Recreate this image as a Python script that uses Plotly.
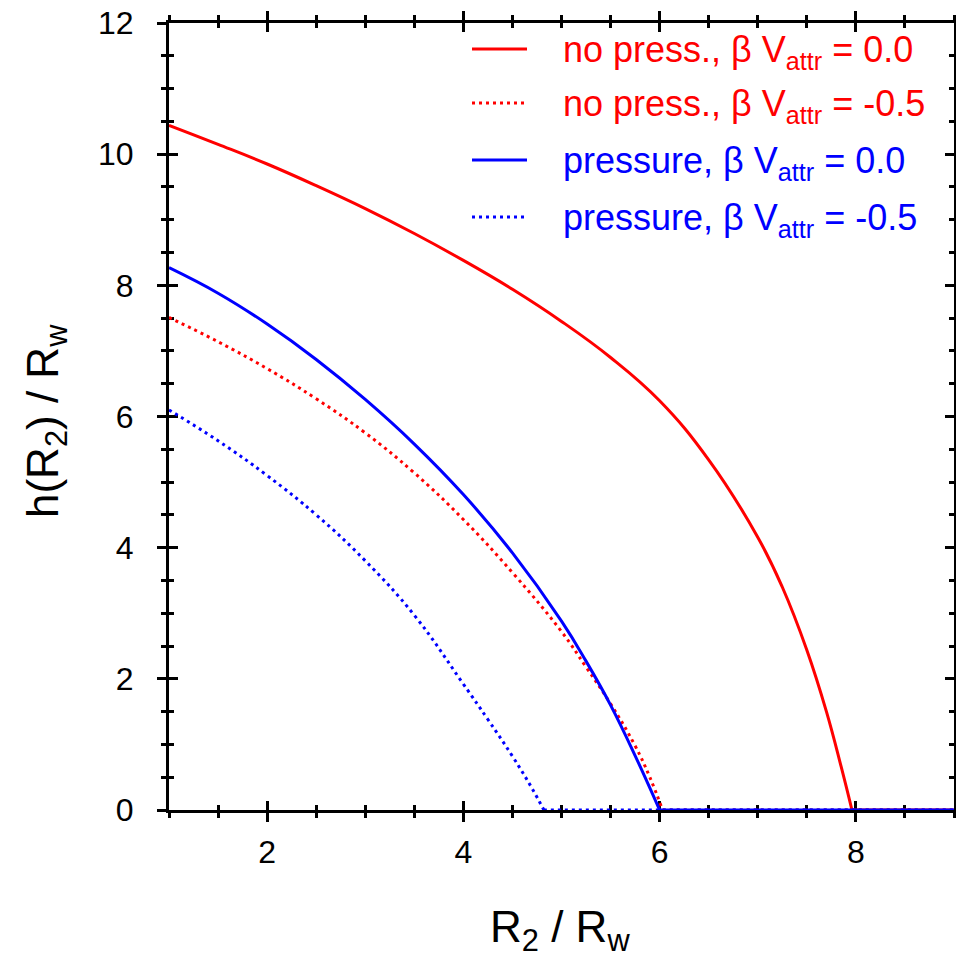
import plotly.graph_objects as go

# ---- data ----
x_nopress_0 = [1, 1.5, 2, 2.5, 3, 3.5, 4, 4.5, 5, 5.5, 6, 6.5, 7, 7.25, 7.5, 7.7, 7.85, 7.96, 9]
y_nopress_0 = [10.44, 10.15, 9.85, 9.52, 9.17, 8.79, 8.38, 7.94, 7.45, 6.90, 6.24, 5.34, 4.16, 3.40, 2.44, 1.50, 0.66, 0.0, 0.0]

x_nopress_m05 = [1, 1.5, 2, 2.5, 3, 3.5, 4, 4.5, 5, 5.25, 5.5, 5.75, 5.9, 6.03, 9]
y_nopress_m05 = [7.51, 7.14, 6.73, 6.27, 5.75, 5.14, 4.43, 3.62, 2.72, 2.18, 1.62, 0.98, 0.50, 0.0, 0.0]

x_press_0 = [1, 1.5, 2, 2.5, 3, 3.5, 4, 4.5, 5, 5.25, 5.5, 5.75, 6.0, 9]
y_press_0 = [8.27, 7.88, 7.41, 6.87, 6.26, 5.58, 4.81, 3.92, 2.88, 2.27, 1.60, 0.83, 0.0, 0.0]

x_press_m05 = [1, 1.5, 2, 2.5, 3, 3.5, 4, 4.25, 4.5, 4.7, 4.82, 9]
y_press_m05 = [6.10, 5.63, 5.10, 4.50, 3.80, 2.97, 1.92, 1.38, 0.82, 0.33, 0.0, 0.0]

series_names = [
    "no press., β V<sub>attr</sub> = 0.0",
    "no press., β V<sub>attr</sub> = -0.5",
    "pressure, β V<sub>attr</sub> = 0.0",
    "pressure, β V<sub>attr</sub> = -0.5",
]
series_colors = ["#ff0000", "#ff0000", "#0000ff", "#0000ff"]
series_dash = ["solid", "3px,4px", "solid", "3px,4px"]

x_ticks = [2, 4, 6, 8]
y_ticks = [0, 2, 4, 6, 8, 10, 12]

FONT = "Liberation Sans, Arial, Helvetica, sans-serif"

fig = go.Figure()
all_x = [x_nopress_0, x_nopress_m05, x_press_0, x_press_m05]
all_y = [y_nopress_0, y_nopress_m05, y_press_0, y_press_m05]
for xs, ys, name, col, dash in zip(all_x, all_y, series_names, series_colors, series_dash):
    k = ys.index(0.0)  # first point where the profile reaches zero
    # curved part (smoothed) ...
    fig.add_trace(go.Scatter(
        x=xs[:k + 1], y=ys[:k + 1], mode="lines", name=name, showlegend=False,
        line=dict(color=col, width=3, dash=dash, shape="spline", smoothing=1.2),
        cliponaxis=False,
    ))
    # ... and the flat h = 0 part
    fig.add_trace(go.Scatter(
        x=xs[k:], y=ys[k:], mode="lines", name=name, showlegend=False,
        line=dict(color=col, width=3, dash=dash),
        cliponaxis=False,
    ))

W, H = 956, 965
ML, MR, MT, MB = 169, 2, 23, 155
PW, PH = W - ML - MR, H - MT - MB


def px2paper(px, py):
    return (px - ML) / PW, (H - MB - py) / PH


common = dict(showgrid=False, zeroline=False, showline=True, linecolor="black",
              linewidth=3, tickcolor="black", tickwidth=3, ticklen=9,
              mirror="allticks", layer="below traces", automargin=False)

fig.update_layout(
    width=W, height=H, autosize=False,
    margin=dict(l=ML, r=MR, t=MT, b=MB, pad=0),
    paper_bgcolor="white", plot_bgcolor="white",
    font=dict(family=FONT, size=32, color="black"),
    xaxis=dict(range=[1, 9], tickvals=x_ticks, ticks="inside",
               minor=dict(dtick=0.5, tick0=1, ticks="inside", ticklen=5,
                          tickwidth=3, tickcolor="black"),
               tickfont=dict(size=32), ticklabelstandoff=12, **common),
    xaxis2=dict(range=[1, 9], matches="x", overlaying="x", anchor="y",
                tickvals=x_ticks, ticks="outside", showticklabels=False,
                minor=dict(dtick=0.5, tick0=1, ticks="outside", ticklen=5,
                           tickwidth=3, tickcolor="black"),
                **common),
    yaxis=dict(range=[0, 12], tickvals=y_ticks, ticks="inside",
               minor=dict(dtick=0.5, tick0=0, ticks="inside", ticklen=5,
                          tickwidth=3, tickcolor="black"),
               tickfont=dict(size=32), ticklabelstandoff=26, **common),
    yaxis2=dict(range=[0, 12], matches="y", overlaying="y", anchor="x", side="left",
                tickvals=y_ticks, ticks="outside", showticklabels=False,
                minor=dict(dtick=0.5, tick0=0, ticks="outside", ticklen=5,
                           tickwidth=3, tickcolor="black"),
                **common),
)

# invisible trace so the overlay (crossing-tick) axes render
fig.add_trace(go.Scatter(x=[1, 9], y=[0, 12], xaxis="x2", yaxis="y2", mode="lines",
                         line=dict(width=0), hoverinfo="skip", showlegend=False,
                         opacity=0))

# axis titles
ax, ay = px2paper(560, 930)
fig.add_annotation(text="R<sub>2</sub> / R<sub>w</sub>", x=ax, y=ay, xref="paper", yref="paper",
                   showarrow=False, xanchor="center", yanchor="middle",
                   font=dict(size=44, family=FONT, color="black"))
ax, ay = px2paper(46, 421)
fig.add_annotation(text="h(R<sub>2</sub>) / R<sub>w</sub>", x=ax, y=ay, xref="paper", yref="paper",
                   showarrow=False, xanchor="center", yanchor="middle", textangle=-90,
                   font=dict(size=44, family=FONT, color="black"))

# legend (drawn manually to match the reference layout)
row_y = [49, 103, 160, 217]
for name, col, dash, ry in zip(series_names, series_colors, series_dash, row_y):
    x0, y0 = px2paper(472, ry)
    x1, _ = px2paper(527, ry)
    fig.add_shape(type="line", xref="paper", yref="paper", x0=x0, x1=x1, y0=y0, y1=y0,
                  line=dict(color=col, width=3, dash=dash))
    tx, ty = px2paper(561, ry + 3)
    fig.add_annotation(text=name, x=tx, y=ty, xref="paper", yref="paper", showarrow=False,
                       xanchor="left", yanchor="middle",
                       font=dict(size=36, family=FONT, color=col))

fig.write_html(
    "out.html",
    config={"responsive": False, "displayModeBar": False},
    post_script=("document.body.style.margin='0px';"
                 "document.body.style.overflow='hidden';"
                 "Plotly.relayout('{plot_id}', {width: 956, height: 965});"),
)
